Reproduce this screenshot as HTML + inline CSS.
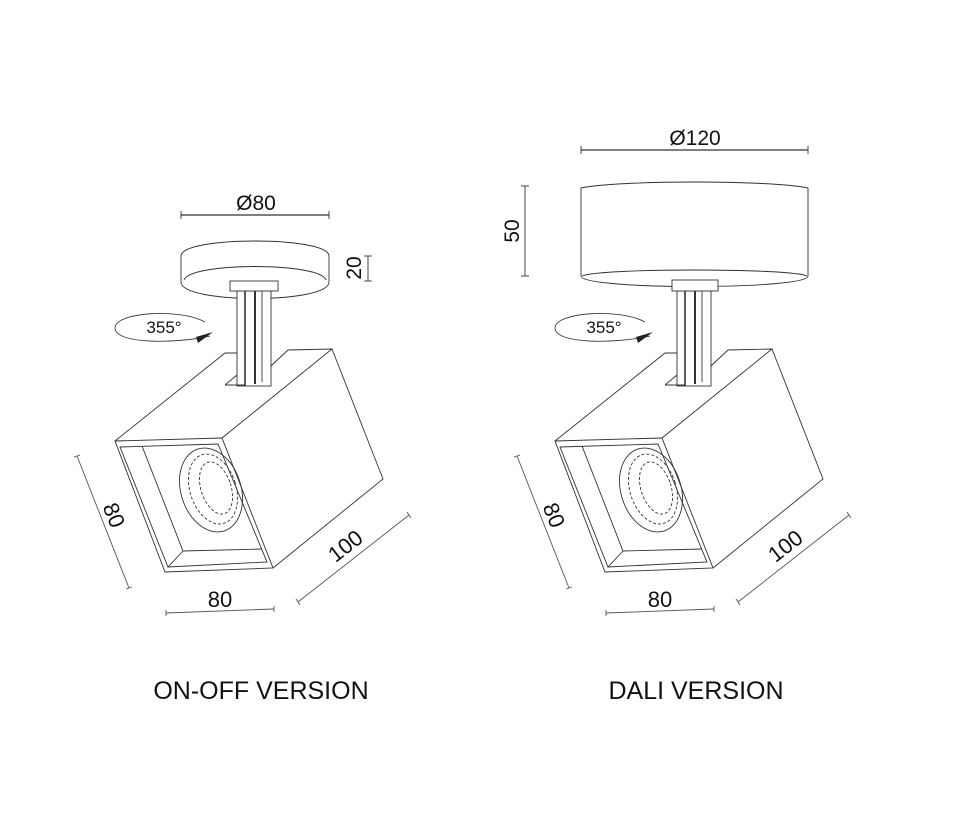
<!DOCTYPE html>
<html><head><meta charset="utf-8"><style>
html,body{margin:0;padding:0;background:#fff;}
svg{display:block}
text{font-family:"Liberation Sans",Arial,sans-serif;fill:#111}
</style></head><body>
<svg width="972" height="823" viewBox="0 0 972 823" xmlns="http://www.w3.org/2000/svg">
<defs>
<g id="body" fill="none" stroke="#333" stroke-width="0.9">
  <path d="M205,322 C180,308 115,312 115,328 C115,344 175,344 210,336" stroke="#444"/>
  <polygon points="196,337 213,332 198,343" fill="#222" stroke="none"/>
  <text x="164" y="333" font-size="17" text-anchor="middle" stroke="none">355°</text>
  <rect x="237" y="291" width="34" height="95" fill="#fff"/>
  <line x1="245" y1="291" x2="245" y2="386" stroke-width="1.6"/>
  <line x1="255" y1="291" x2="255" y2="384" stroke-width="2"/>
  <line x1="262" y1="291" x2="262" y2="382"/>
  <path d="M115,441 L225,353 L237,353 M271,366 L288,350 L332,349 L222,438 M225,385 L237,375 M225,385 L245,385" />
  <polygon points="115,441 222,438 273,568 165,572"/>
  <polygon points="120,447 218,444 267,562 168,567"/>
  <path d="M142,446 L183,551 L262,549 M168,567 L183,551"/>
  <path d="M332,349 L383,479 L273,568"/>
  <ellipse cx="211" cy="490" rx="30" ry="43" transform="rotate(-18 211 490)"/>
  <ellipse cx="213" cy="489" rx="23" ry="36" transform="rotate(-18 213 489)" stroke-dasharray="3 2"/>
  <ellipse cx="216" cy="488" rx="15" ry="27" transform="rotate(-18 216 488)" stroke-dasharray="3 2"/>
  <line x1="77" y1="456" x2="129" y2="588" stroke="#555"/>
  <line x1="74" y1="457" x2="80" y2="455" stroke="#555"/>
  <line x1="126" y1="589" x2="132" y2="587" stroke="#555"/>
  <text x="0" y="0" font-size="22" text-anchor="middle" stroke="none" transform="translate(107,518) rotate(68)">80</text>
  <line x1="298" y1="602" x2="409" y2="515" stroke="#555"/>
  <line x1="296" y1="599" x2="300" y2="605" stroke="#555"/>
  <line x1="407" y1="512" x2="411" y2="518" stroke="#555"/>
  <text x="0" y="0" font-size="22" text-anchor="middle" stroke="none" transform="translate(350,552) rotate(-38)">100</text>
  <line x1="166" y1="613" x2="274" y2="609" stroke="#555"/>
  <line x1="166" y1="610" x2="166" y2="616" stroke="#555"/>
  <line x1="274" y1="606" x2="274" y2="612" stroke="#555"/>
  <text x="220" y="607" font-size="22" text-anchor="middle" stroke="none">80</text>
</g>
</defs>

<g fill="none" stroke="#333" stroke-width="0.9">
  <line x1="181" y1="215" x2="329" y2="215" stroke-width="1.2"/>
  <line x1="181" y1="211" x2="181" y2="219"/><line x1="329" y1="211" x2="329" y2="219"/>
  <path d="M181,256 C181,236 329,236 329,256 L329,282 C329,304 181,304 181,282 Z" fill="#fff"/>
  <path d="M184,280 C190,262 320,262 326,280"/>
  <line x1="368" y1="256" x2="368" y2="281"/>
  <line x1="364" y1="256" x2="372" y2="256"/><line x1="364" y1="281" x2="372" y2="281"/>
  <line x1="581" y1="150" x2="808" y2="150" stroke-width="1.2"/>
  <line x1="581" y1="146" x2="581" y2="154"/><line x1="808" y1="146" x2="808" y2="154"/>
  <path d="M581,188 C620,180 770,180 808,188 L808,276 C808,290 581,290 581,276 Z" fill="#fff"/>
  <path d="M582,276 C600,268 790,268 807,276"/>
  <line x1="525" y1="186" x2="525" y2="276"/>
  <line x1="521" y1="186" x2="529" y2="186"/><line x1="521" y1="276" x2="529" y2="276"/>
</g>
<use href="#body"/>
<use href="#body" transform="translate(440,0)"/>
<g fill="#fff" stroke="#333" stroke-width="0.9">
  <rect x="230" y="281" width="48" height="10"/>
  <rect x="672" y="280" width="46" height="11"/>
</g>
<text x="256" y="210" font-size="21" text-anchor="middle">Ø80</text>
<text x="0" y="0" font-size="21" text-anchor="middle" transform="translate(361,268) rotate(-90)">20</text>
<text x="695" y="145" font-size="21" text-anchor="middle">Ø120</text>
<text x="0" y="0" font-size="21" text-anchor="middle" transform="translate(519,231) rotate(-90)">50</text>
<text x="261" y="699" font-size="25" text-anchor="middle">ON-OFF VERSION</text>
<text x="696" y="699" font-size="25" text-anchor="middle">DALI VERSION</text>
</svg>
</body></html>
